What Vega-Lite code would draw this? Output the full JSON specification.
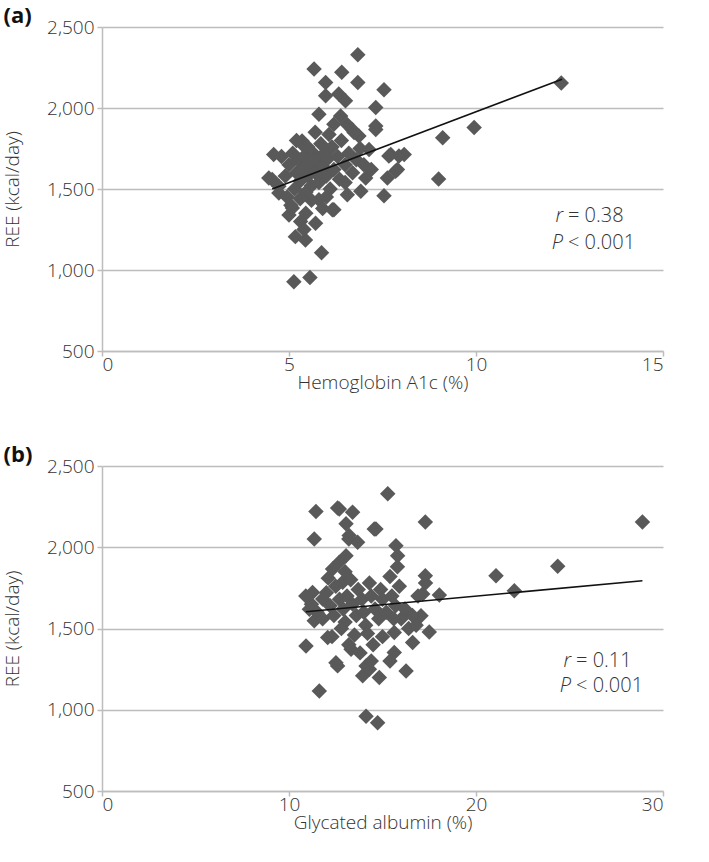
{
  "$schema": "https://vega.github.io/schema/vega-lite/v6.json",
  "padding": {"left": 3, "top": 5, "right": 5, "bottom": 5},
  "spacing": 52,
  "background": "white",
  "config": {
    "view": {"stroke": null},
    "axis": {
      "gridColor": "#bdbdbd", "gridWidth": 1.5,
      "domainColor": "#bdbdbd", "domainWidth": 1.5,
      "tickColor": "#bdbdbd", "tickWidth": 1.5, "tickSize": 5,
      "labelFont": "Open Sans", "labelFontSize": 19, "labelFontWeight": 300, "labelColor": "#333333", "labelPadding": 3,
      "titleFont": "Open Sans", "titleFontSize": 19, "titleFontWeight": 300, "titleColor": "#333333"
    },
    "axisX": {"labelPadding": -1, "titlePadding": -1},
    "axisY": {"titlePadding": 24},
    "title": {"font": "Open Sans", "fontSize": 22, "fontWeight": "bold", "color": "#111111", "anchor": "start", "frame": "bounds", "offset": -10}
  },
  "datasets": {
    "a": [
      {"hba1c": 6.84, "ree": 2328}, {"hba1c": 5.67, "ree": 2241}, {"hba1c": 6.41, "ree": 2220}, {"hba1c": 6.84, "ree": 2158},
      {"hba1c": 7.54, "ree": 2113}, {"hba1c": 5.98, "ree": 2158}, {"hba1c": 5.98, "ree": 2076}, {"hba1c": 6.51, "ree": 2045},
      {"hba1c": 6.33, "ree": 2086}, {"hba1c": 7.32, "ree": 2003}, {"hba1c": 5.8, "ree": 1961}, {"hba1c": 6.38, "ree": 1951},
      {"hba1c": 7.32, "ree": 1889}, {"hba1c": 6.69, "ree": 1868}, {"hba1c": 6.87, "ree": 1827}, {"hba1c": 6.07, "ree": 1837},
      {"hba1c": 5.35, "ree": 1796}, {"hba1c": 4.59, "ree": 1713}, {"hba1c": 7.72, "ree": 1713}, {"hba1c": 8.08, "ree": 1713},
      {"hba1c": 7.14, "ree": 1744}, {"hba1c": 4.46, "ree": 1568}, {"hba1c": 4.73, "ree": 1517}, {"hba1c": 5.0, "ree": 1340},
      {"hba1c": 5.17, "ree": 1206}, {"hba1c": 5.44, "ree": 1185}, {"hba1c": 5.71, "ree": 1289}, {"hba1c": 6.2, "ree": 1372},
      {"hba1c": 5.87, "ree": 1107}, {"hba1c": 5.13, "ree": 927}, {"hba1c": 5.56, "ree": 953}, {"hba1c": 7.05, "ree": 1568},
      {"hba1c": 6.92, "ree": 1486}, {"hba1c": 7.54, "ree": 1459}, {"hba1c": 7.63, "ree": 1568}, {"hba1c": 7.94, "ree": 1703},
      {"hba1c": 6.56, "ree": 1465}, {"hba1c": 5.31, "ree": 1300}, {"hba1c": 12.28, "ree": 2154}, {"hba1c": 9.95, "ree": 1879},
      {"hba1c": 9.11, "ree": 1817}, {"hba1c": 9.0, "ree": 1562}, {"hba1c": 7.9, "ree": 1620}, {"hba1c": 4.73, "ree": 1475},
      {"hba1c": 5.09, "ree": 1382}, {"hba1c": 6.16, "ree": 1372}, {"hba1c": 5.8, "ree": 1434}, {"hba1c": 5.45, "ree": 1351},
      {"hba1c": 7.85, "ree": 1610}, {"hba1c": 7.67, "ree": 1703}, {"hba1c": 5.36, "ree": 1775}, {"hba1c": 6.74, "ree": 1848},
      {"hba1c": 7.32, "ree": 1868}, {"hba1c": 5.0, "ree": 1650}, {"hba1c": 5.1, "ree": 1720}, {"hba1c": 5.2, "ree": 1600},
      {"hba1c": 5.25, "ree": 1680}, {"hba1c": 5.3, "ree": 1550}, {"hba1c": 5.35, "ree": 1620}, {"hba1c": 5.4, "ree": 1700},
      {"hba1c": 5.45, "ree": 1480}, {"hba1c": 5.5, "ree": 1580}, {"hba1c": 5.5, "ree": 1760}, {"hba1c": 5.55, "ree": 1650},
      {"hba1c": 5.6, "ree": 1520}, {"hba1c": 5.65, "ree": 1720}, {"hba1c": 5.7, "ree": 1600}, {"hba1c": 5.75, "ree": 1680},
      {"hba1c": 5.8, "ree": 1540}, {"hba1c": 5.85, "ree": 1780}, {"hba1c": 5.9, "ree": 1640}, {"hba1c": 5.95, "ree": 1720},
      {"hba1c": 6.0, "ree": 1580}, {"hba1c": 6.05, "ree": 1690}, {"hba1c": 6.1, "ree": 1500}, {"hba1c": 6.15, "ree": 1760},
      {"hba1c": 6.2, "ree": 1620}, {"hba1c": 6.3, "ree": 1700}, {"hba1c": 6.35, "ree": 1560}, {"hba1c": 6.4, "ree": 1800},
      {"hba1c": 6.5, "ree": 1650}, {"hba1c": 6.6, "ree": 1720}, {"hba1c": 6.7, "ree": 1600}, {"hba1c": 6.8, "ree": 1680},
      {"hba1c": 4.9, "ree": 1580}, {"hba1c": 4.95, "ree": 1450}, {"hba1c": 5.15, "ree": 1500}, {"hba1c": 5.05, "ree": 1400},
      {"hba1c": 5.6, "ree": 1430}, {"hba1c": 5.3, "ree": 1440}, {"hba1c": 6.0, "ree": 1450}, {"hba1c": 5.9, "ree": 1380},
      {"hba1c": 6.9, "ree": 1750}, {"hba1c": 7.0, "ree": 1650}, {"hba1c": 7.2, "ree": 1620}, {"hba1c": 6.5, "ree": 1540},
      {"hba1c": 4.8, "ree": 1700}, {"hba1c": 5.2, "ree": 1800}, {"hba1c": 5.7, "ree": 1850}, {"hba1c": 6.2, "ree": 1900},
      {"hba1c": 5.4, "ree": 1250}, {"hba1c": 6.55, "ree": 1900}, {"hba1c": 4.55, "ree": 1558}
    ],
    "b": [
      {"ga": 15.28, "ree": 2329}, {"ga": 17.29, "ree": 2156}, {"ga": 14.56, "ree": 2113}, {"ga": 12.69, "ree": 2236},
      {"ga": 13.4, "ree": 2216}, {"ga": 13.2, "ree": 2051}, {"ga": 15.72, "ree": 2010}, {"ga": 15.81, "ree": 1948},
      {"ga": 17.29, "ree": 1825}, {"ga": 21.07, "ree": 1825}, {"ga": 24.37, "ree": 1883}, {"ga": 22.05, "ree": 1732},
      {"ga": 18.04, "ree": 1706}, {"ga": 17.15, "ree": 1712}, {"ga": 17.5, "ree": 1479}, {"ga": 16.26, "ree": 1238},
      {"ga": 14.83, "ree": 1198}, {"ga": 14.12, "ree": 960}, {"ga": 14.74, "ree": 920}, {"ga": 13.32, "ree": 1372},
      {"ga": 12.6, "ree": 1270}, {"ga": 15.63, "ree": 1352}, {"ga": 15.63, "ree": 1475}, {"ga": 16.61, "ree": 1414},
      {"ga": 17.06, "ree": 1578}, {"ga": 14.3, "ree": 1249}, {"ga": 11.44, "ree": 2220}, {"ga": 12.6, "ree": 2241},
      {"ga": 13.05, "ree": 2144}, {"ga": 11.35, "ree": 2051}, {"ga": 13.22, "ree": 2072}, {"ga": 13.67, "ree": 2031},
      {"ga": 14.65, "ree": 2113}, {"ga": 13.05, "ree": 1948}, {"ga": 12.69, "ree": 1907}, {"ga": 12.33, "ree": 1866},
      {"ga": 11.26, "ree": 1722}, {"ga": 12.87, "ree": 1784}, {"ga": 11.09, "ree": 1619}, {"ga": 11.8, "ree": 1681},
      {"ga": 10.91, "ree": 1393}, {"ga": 12.07, "ree": 1444}, {"ga": 11.62, "ree": 1115}, {"ga": 14.12, "ree": 1270},
      {"ga": 13.94, "ree": 1209}, {"ga": 11.35, "ree": 1547}, {"ga": 12.51, "ree": 1290}, {"ga": 28.9, "ree": 2156},
      {"ga": 11.5, "ree": 1600}, {"ga": 11.8, "ree": 1560}, {"ga": 12.0, "ree": 1720}, {"ga": 12.2, "ree": 1640},
      {"ga": 12.4, "ree": 1580}, {"ga": 12.5, "ree": 1760}, {"ga": 12.7, "ree": 1680}, {"ga": 12.9, "ree": 1620},
      {"ga": 13.0, "ree": 1540}, {"ga": 13.1, "ree": 1700}, {"ga": 13.3, "ree": 1800}, {"ga": 13.4, "ree": 1650},
      {"ga": 13.6, "ree": 1580}, {"ga": 13.7, "ree": 1740}, {"ga": 13.9, "ree": 1680}, {"ga": 14.0, "ree": 1600},
      {"ga": 14.1, "ree": 1520}, {"ga": 14.3, "ree": 1780}, {"ga": 14.4, "ree": 1700}, {"ga": 14.6, "ree": 1620},
      {"ga": 14.8, "ree": 1560}, {"ga": 14.9, "ree": 1740}, {"ga": 15.0, "ree": 1680}, {"ga": 15.2, "ree": 1600},
      {"ga": 15.4, "ree": 1820}, {"ga": 15.5, "ree": 1700}, {"ga": 15.7, "ree": 1640}, {"ga": 15.8, "ree": 1880},
      {"ga": 16.0, "ree": 1560}, {"ga": 16.2, "ree": 1620}, {"ga": 16.4, "ree": 1500}, {"ga": 16.6, "ree": 1580},
      {"ga": 16.8, "ree": 1520}, {"ga": 13.5, "ree": 1460}, {"ga": 14.5, "ree": 1400}, {"ga": 13.8, "ree": 1350},
      {"ga": 15.0, "ree": 1450}, {"ga": 12.8, "ree": 1500}, {"ga": 11.2, "ree": 1650}, {"ga": 10.9, "ree": 1700},
      {"ga": 12.3, "ree": 1450}, {"ga": 14.2, "ree": 1470}, {"ga": 13.0, "ree": 1850}, {"ga": 15.6, "ree": 1560},
      {"ga": 16.9, "ree": 1700}, {"ga": 15.4, "ree": 1300}, {"ga": 13.2, "ree": 1400}, {"ga": 14.4, "ree": 1300},
      {"ga": 15.9, "ree": 1760}, {"ga": 12.1, "ree": 1810}, {"ga": 17.3, "ree": 1780}
    ]
  },
  "vconcat": [
    {
      "title": {"text": "(a)"},
      "width": 561,
      "height": 324,
      "layer": [
        {
          "data": {"name": "a"},
          "mark": {"type": "point", "shape": "diamond", "filled": true, "size": 240, "color": "#595959", "opacity": 1},
          "encoding": {
            "x": {"field": "hba1c", "type": "quantitative", "scale": {"domain": [0, 15], "nice": false, "zero": false},
                  "axis": {"title": "Hemoglobin A1c (%)", "values": [0, 5, 10, 15], "grid": false}},
            "y": {"field": "ree", "type": "quantitative", "scale": {"domain": [500, 2500], "nice": false, "zero": false},
                  "axis": {"title": "REE (kcal/day)", "values": [500, 1000, 1500, 2000, 2500], "format": ",.0f"}}
          }
        },
        {
          "data": {"values": [{"hba1c": 4.55, "ree": 1500}, {"hba1c": 12.3, "ree": 2178}]},
          "mark": {"type": "line", "color": "#111111", "strokeWidth": 1.6},
          "encoding": {
            "x": {"field": "hba1c", "type": "quantitative"},
            "y": {"field": "ree", "type": "quantitative"}
          }
        },
        {
          "data": {"values": [{"hba1c": 12.38, "ree": 1332, "t": "r"}, {"hba1c": 12.38, "ree": 1165, "t": "P"}]},
          "mark": {"type": "text", "align": "right", "baseline": "middle", "font": "Open Sans", "fontSize": 20, "fontWeight": 300, "fontStyle": "italic", "color": "#333333", "dx": -2},
          "encoding": {
            "x": {"field": "hba1c", "type": "quantitative"},
            "y": {"field": "ree", "type": "quantitative"},
            "text": {"field": "t"}
          }
        },
        {
          "data": {"values": [{"hba1c": 12.38, "ree": 1332, "t": "= 0.38"}, {"hba1c": 12.38, "ree": 1165, "t": "< 0.001"}]},
          "mark": {"type": "text", "align": "left", "baseline": "middle", "font": "Open Sans", "fontSize": 20, "fontWeight": 300, "color": "#333333", "dx": 3},
          "encoding": {
            "x": {"field": "hba1c", "type": "quantitative"},
            "y": {"field": "ree", "type": "quantitative"},
            "text": {"field": "t"}
          }
        }
      ]
    },
    {
      "title": {"text": "(b)"},
      "width": 561,
      "height": 325,
      "layer": [
        {
          "data": {"name": "b"},
          "mark": {"type": "point", "shape": "diamond", "filled": true, "size": 240, "color": "#595959", "opacity": 1},
          "encoding": {
            "x": {"field": "ga", "type": "quantitative", "scale": {"domain": [0, 30], "nice": false, "zero": false},
                  "axis": {"title": "Glycated albumin (%)", "values": [0, 10, 20, 30], "grid": false}},
            "y": {"field": "ree", "type": "quantitative", "scale": {"domain": [500, 2500], "nice": false, "zero": false},
                  "axis": {"title": "REE (kcal/day)", "values": [500, 1000, 1500, 2000, 2500], "format": ",.0f"}}
          }
        },
        {
          "data": {"values": [{"ga": 10.9, "ree": 1603}, {"ga": 28.9, "ree": 1794}]},
          "mark": {"type": "line", "color": "#111111", "strokeWidth": 1.6},
          "encoding": {
            "x": {"field": "ga", "type": "quantitative"},
            "y": {"field": "ree", "type": "quantitative"}
          }
        },
        {
          "data": {"values": [{"ga": 25.19, "ree": 1300, "t": "r"}, {"ga": 25.19, "ree": 1146, "t": "P"}]},
          "mark": {"type": "text", "align": "right", "baseline": "middle", "font": "Open Sans", "fontSize": 20, "fontWeight": 300, "fontStyle": "italic", "color": "#333333", "dx": -2},
          "encoding": {
            "x": {"field": "ga", "type": "quantitative"},
            "y": {"field": "ree", "type": "quantitative"},
            "text": {"field": "t"}
          }
        },
        {
          "data": {"values": [{"ga": 25.19, "ree": 1300, "t": "= 0.11"}, {"ga": 25.19, "ree": 1146, "t": "< 0.001"}]},
          "mark": {"type": "text", "align": "left", "baseline": "middle", "font": "Open Sans", "fontSize": 20, "fontWeight": 300, "color": "#333333", "dx": 3},
          "encoding": {
            "x": {"field": "ga", "type": "quantitative"},
            "y": {"field": "ree", "type": "quantitative"},
            "text": {"field": "t"}
          }
        }
      ]
    }
  ]
}
